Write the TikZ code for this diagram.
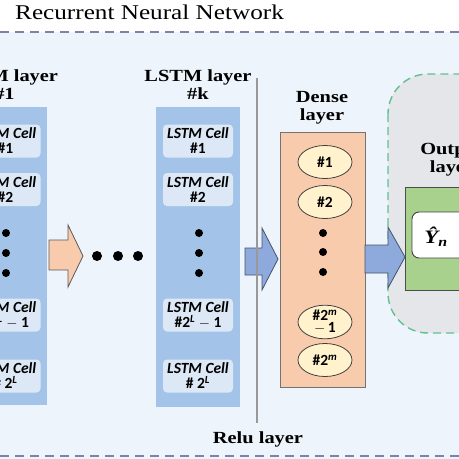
\documentclass[tikz,border=0pt]{standalone}
\usepackage{fontspec}
\setmainfont{Liberation Serif}[FakeStretch=1.2]
\newfontfamily\cellfont{Carlito}
\usetikzlibrary{shapes.geometric}
\definecolor{bgblue}{HTML}{EEF4FB}
\definecolor{layerblue}{HTML}{A3C4E8}
\definecolor{cellblue}{HTML}{DCE8F5}
\definecolor{peach}{HTML}{F8CBAD}
\definecolor{ellfill}{HTML}{FFF2CC}
\definecolor{arrowblue}{HTML}{8EA9DB}
\definecolor{arrowedge}{HTML}{44546A}
\definecolor{dashpurple}{HTML}{8080A8}
\definecolor{dashgreen}{HTML}{62C08E}
\definecolor{outgray}{HTML}{E4E6EA}
\definecolor{outgreen}{HTML}{A9D18E}
\tikzset{
  layerbox/.style={fill=layerblue, minimum width=85pt, inner sep=0pt},
  cellbox/.style={fill=cellblue, rounded corners=4pt, minimum width=70pt, minimum height=33pt, inner sep=0pt, align=center, font=\cellfont\bfseries\fontsize{15.5}{16}\selectfont},
  headtxt/.style={font=\bfseries\fontsize{17}{21}\selectfont, align=center},
  elln/.style={ellipse, draw=black!75, line width=0.8pt, fill=ellfill, minimum width=54pt, minimum height=33pt, inner sep=0pt, align=center, font=\cellfont\bfseries\fontsize{15.5}{12}\selectfont},
  dotc/.style={circle, fill=black, inner sep=0pt, minimum size=8pt},
  bigdot/.style={circle, fill=black, inner sep=0pt, minimum size=10pt},
  blockarrow/.style={line width=0.8pt, line join=miter},
}
\begin{document}
\begin{tikzpicture}[x=1pt,y=-1pt]
\useasboundingbox (0,0) rectangle (459,459);
\clip (0,0) rectangle (459,459);
\fill[white] (0,0) rectangle (459,459);
\fill[bgblue] (0,32) rectangle (459,459);
% title
\node[font=\fontsize{21}{24}\selectfont, anchor=west, inner sep=0pt] (title) at (15,12) {Recurrent Neural Network};
\draw[dashpurple, line width=1.6pt, dash pattern=on 9pt off 6pt] (0,32) -- (459,32);
\draw[dashpurple, line width=1.6pt, dash pattern=on 9pt off 6pt] (0,456) -- (459,456);

% LSTM layer #1
\node[layerbox, minimum height=298pt] (L1) at (4.5,256) {};
\node[headtxt] (L1t) at (4.5,85) {LSTM layer\\[-3pt]\#1};
\node[cellbox] (c11) at (5.5,141) {\itshape LSTM Cell\\[-1pt]\#1};
\node[cellbox] (c12) at (5.5,189.5) {\itshape LSTM Cell\\[-1pt]\#2};
\node[dotc] (d11) at (6,233) {};
\node[dotc] (d12) at (6,253) {};
\node[dotc] (d13) at (6,273) {};
\node[cellbox] (c13) at (5.5,315) {\itshape LSTM Cell\\[-1pt]\#2\textsuperscript{\itshape L} $-$ 1};
\node[cellbox] (c14) at (5.5,376) {\itshape LSTM Cell\\[-1pt]\# 2\textsuperscript{\itshape L}};

% orange arrow
\draw[blockarrow, draw=black!65, fill=peach] (49,240) -- (68,240) -- (68,225) -- (83,256) -- (68,287) -- (68,270) -- (49,270) -- cycle;
% dots
\node[bigdot] (e1) at (97,256) {};
\node[bigdot] (e2) at (118,256) {};
\node[bigdot] (e3) at (138,256) {};

% LSTM layer #k
\node[layerbox, minimum height=300pt, minimum width=84pt] (Lk) at (198,257) {};
\node[headtxt] (Lkt) at (198,85) {LSTM layer\\[-3pt]\#k};
\node[cellbox] (ck1) at (198,141) {\itshape LSTM Cell\\[-1pt]\#1};
\node[cellbox] (ck2) at (198,189.5) {\itshape LSTM Cell\\[-1pt]\#2};
\node[dotc] (dk1) at (199,233) {};
\node[dotc] (dk2) at (199,253) {};
\node[dotc] (dk3) at (199,273) {};
\node[cellbox] (ck3) at (198,315) {\itshape LSTM Cell\\[-1pt]\#2\textsuperscript{\itshape L} $-$ 1};
\node[cellbox] (ck4) at (198,376) {\itshape LSTM Cell\\[-1pt]\# 2\textsuperscript{\itshape L}};

% blue arrow 1
\draw[blockarrow, draw=arrowedge, fill=arrowblue] (245,248) -- (262,248) -- (262,228) -- (278,259) -- (262,290) -- (262,275) -- (245,275) -- cycle;
% relu line
\coordinate (rtop) at (257,78);
\coordinate (rbot) at (257,423);
\draw[black!40, line width=1.5pt] (rtop) -- (rbot);
\node[headtxt] (relu) at (258,439) {Relu layer};

% Dense layer
\node[headtxt] (Dt) at (322,108) {Dense\\[-3pt]layer};
\node[draw=black!55, line width=0.8pt, fill=peach, minimum width=85pt, minimum height=255pt, inner sep=0pt] (D) at (322.5,259.5) {};
\node[elln] (n1) at (325,162) {\#1};
\node[elln] (n2) at (325,202) {\#2};
\node[dotc] (dd1) at (323,233) {};
\node[dotc] (dd2) at (323,252) {};
\node[dotc] (dd3) at (323,272) {};
\node[elln] (n3) at (325,322) {\#2\textsuperscript{\itshape m}\\$-$\,1};
\node[elln] (n4) at (325,360) {\#2\textsuperscript{\itshape m}};

% output region
\draw[dashgreen, line width=1.4pt, dash pattern=on 8pt off 5pt, fill=outgray, rounded corners=40pt] (388,74) rectangle (530,333);
\node[headtxt] (Ot) at (452,160) {Output\\[-3pt]layer};
\draw[black!70, line width=0.9pt, fill=outgreen] (405,187) rectangle (530,290);
\node[draw=black!75, line width=0.9pt, fill=white, rounded corners=7pt, minimum width=110pt, minimum height=46pt, inner sep=0pt] (Y) at (467,235) {};
\node[font=\bfseries\itshape\fontsize{19}{20}\selectfont, inner sep=0pt] (Yt) at (436,237) {Ŷ\textsubscript{\itshape n}};

% blue arrow 2
\draw[blockarrow, draw=arrowedge, fill=arrowblue] (365,245) -- (388,245) -- (388,227) -- (405,257) -- (388,288) -- (388,273) -- (365,273) -- cycle;
\end{tikzpicture}
\end{document}
